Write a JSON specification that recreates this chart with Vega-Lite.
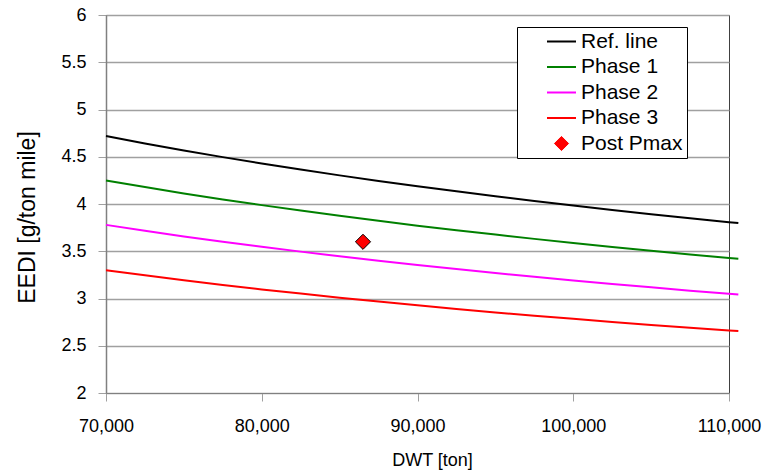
{
  "$schema": "https://vega.github.io/schema/vega-lite/v6.json",
  "width": 623,
  "height": 378,
  "autosize": {"type": "none"},
  "padding": {"left": 106, "top": 15, "right": 34, "bottom": 81},
  "background": "white",
  "config": {
    "font": "Liberation Sans",
    "view": {"stroke": "#404040", "strokeWidth": 1},
    "axis": {"labelFont": "Liberation Sans", "titleFont": "Liberation Sans", "labelColor": "#000000", "titleColor": "#000000", "titleFontWeight": "normal"},
    "legend": {"labelFont": "Liberation Sans"}
  },
  "datasets": {
    "lines": [
      {"s": "Ref. line", "x": 70000, "y": 4.719}, {"s": "Ref. line", "x": 72500, "y": 4.641}, {"s": "Ref. line", "x": 75000, "y": 4.566}, {"s": "Ref. line", "x": 77500, "y": 4.496}, {"s": "Ref. line", "x": 80000, "y": 4.429}, {"s": "Ref. line", "x": 82500, "y": 4.365}, {"s": "Ref. line", "x": 85000, "y": 4.303}, {"s": "Ref. line", "x": 87500, "y": 4.244}, {"s": "Ref. line", "x": 90000, "y": 4.188}, {"s": "Ref. line", "x": 92500, "y": 4.134}, {"s": "Ref. line", "x": 95000, "y": 4.082}, {"s": "Ref. line", "x": 97500, "y": 4.032}, {"s": "Ref. line", "x": 100000, "y": 3.984}, {"s": "Ref. line", "x": 102500, "y": 3.937}, {"s": "Ref. line", "x": 105000, "y": 3.892}, {"s": "Ref. line", "x": 107500, "y": 3.849}, {"s": "Ref. line", "x": 110000, "y": 3.807}, {"s": "Ref. line", "x": 110600, "y": 3.798},
      {"s": "Phase 1", "x": 70000, "y": 4.249}, {"s": "Phase 1", "x": 72500, "y": 4.179}, {"s": "Phase 1", "x": 75000, "y": 4.111}, {"s": "Phase 1", "x": 77500, "y": 4.048}, {"s": "Phase 1", "x": 80000, "y": 3.988}, {"s": "Phase 1", "x": 82500, "y": 3.931}, {"s": "Phase 1", "x": 85000, "y": 3.875}, {"s": "Phase 1", "x": 87500, "y": 3.822}, {"s": "Phase 1", "x": 90000, "y": 3.771}, {"s": "Phase 1", "x": 92500, "y": 3.723}, {"s": "Phase 1", "x": 95000, "y": 3.676}, {"s": "Phase 1", "x": 97500, "y": 3.631}, {"s": "Phase 1", "x": 100000, "y": 3.588}, {"s": "Phase 1", "x": 102500, "y": 3.545}, {"s": "Phase 1", "x": 105000, "y": 3.505}, {"s": "Phase 1", "x": 107500, "y": 3.466}, {"s": "Phase 1", "x": 110000, "y": 3.428}, {"s": "Phase 1", "x": 110600, "y": 3.42},
      {"s": "Phase 2", "x": 70000, "y": 3.779}, {"s": "Phase 2", "x": 72500, "y": 3.717}, {"s": "Phase 2", "x": 75000, "y": 3.657}, {"s": "Phase 2", "x": 77500, "y": 3.601}, {"s": "Phase 2", "x": 80000, "y": 3.547}, {"s": "Phase 2", "x": 82500, "y": 3.496}, {"s": "Phase 2", "x": 85000, "y": 3.446}, {"s": "Phase 2", "x": 87500, "y": 3.399}, {"s": "Phase 2", "x": 90000, "y": 3.354}, {"s": "Phase 2", "x": 92500, "y": 3.311}, {"s": "Phase 2", "x": 95000, "y": 3.27}, {"s": "Phase 2", "x": 97500, "y": 3.23}, {"s": "Phase 2", "x": 100000, "y": 3.191}, {"s": "Phase 2", "x": 102500, "y": 3.154}, {"s": "Phase 2", "x": 105000, "y": 3.118}, {"s": "Phase 2", "x": 107500, "y": 3.083}, {"s": "Phase 2", "x": 110000, "y": 3.05}, {"s": "Phase 2", "x": 110600, "y": 3.042},
      {"s": "Phase 3", "x": 70000, "y": 3.30}, {"s": "Phase 3", "x": 72500, "y": 3.245}, {"s": "Phase 3", "x": 75000, "y": 3.192}, {"s": "Phase 3", "x": 77500, "y": 3.143}, {"s": "Phase 3", "x": 80000, "y": 3.096}, {"s": "Phase 3", "x": 82500, "y": 3.052}, {"s": "Phase 3", "x": 85000, "y": 3.008}, {"s": "Phase 3", "x": 87500, "y": 2.967}, {"s": "Phase 3", "x": 90000, "y": 2.928}, {"s": "Phase 3", "x": 92500, "y": 2.89}, {"s": "Phase 3", "x": 95000, "y": 2.853}, {"s": "Phase 3", "x": 97500, "y": 2.818}, {"s": "Phase 3", "x": 100000, "y": 2.785}, {"s": "Phase 3", "x": 102500, "y": 2.752}, {"s": "Phase 3", "x": 105000, "y": 2.72}, {"s": "Phase 3", "x": 107500, "y": 2.69}, {"s": "Phase 3", "x": 110000, "y": 2.661}, {"s": "Phase 3", "x": 110600, "y": 2.655}
    ],
    "points": [
      {"s": "Post Pmax", "x": 86500, "y": 3.6}
    ]
  },
  "encoding": {
    "x": {
      "field": "x", "type": "quantitative",
      "scale": {"domain": [70000, 110000], "nice": false, "zero": false},
      "axis": {
        "title": "DWT [ton]", "values": [70000, 80000, 90000, 100000, 110000], "format": ",d",
        "grid": false, "domainColor": "#808080", "tickColor": "#a0a0a0", "tickSize": 8,
        "labelFontSize": 18, "labelPadding": 16, "labelFlush": false,
        "titleFontSize": 18, "titleX": 326, "titleY": 67, "titleBaseline": "middle"
      }
    },
    "y": {
      "field": "y", "type": "quantitative",
      "scale": {"domain": [2, 6], "nice": false, "zero": false},
      "axis": {
        "title": "EEDI [g/ton mile]", "values": [2, 2.5, 3, 3.5, 4, 4.5, 5, 5.5, 6], "format": "~g",
        "grid": true, "gridColor": "#a0a0a0", "gridWidth": 1.5,
        "domainColor": "#808080", "domainWidth": 1.5, "tickColor": "#a0a0a0", "tickSize": 8,
        "labelFontSize": 18, "labelPadding": 12,
        "titleFontSize": 23, "titleX": -79, "titleY": 202, "titleBaseline": "middle", "titleAlign": "center", "titleAngle": 270
      }
    },
    "color": {
      "field": "s", "type": "nominal",
      "scale": {"domain": ["Ref. line", "Phase 1", "Phase 2", "Phase 3", "Post Pmax"], "range": ["#000000", "#008000", "#ff00ff", "#ff0000", "#ff0000"]},
      "legend": {
        "title": null, "orient": "none", "legendX": 411, "legendY": 12,
        "strokeColor": "#000000", "fillColor": "#ffffff", "padding": 4,
        "labelFontSize": 21, "labelColor": "#000000", "labelOffset": 9,
        "symbolType": "stroke", "symbolSize": 576, "symbolStrokeWidth": 2, "symbolOffset": 30,
        "rowPadding": 3.5,
        "encode": {
          "symbols": {
            "update": {
              "shape": {"signal": "datum.label === 'Post Pmax' ? 'diamond' : 'stroke'"},
              "size": {"signal": "datum.label === 'Post Pmax' ? 200 : 841"},
              "fill": {"signal": "datum.label === 'Post Pmax' ? '#ff0000' : 'transparent'"},
              "stroke": {"signal": "datum.label === 'Post Pmax' ? '#000000' : scale('color', datum.value)"},
              "strokeWidth": {"signal": "datum.label === 'Post Pmax' ? 1 : 2"}
            }
          }
        }
      }
    }
  },
  "layer": [
    {
      "data": {"name": "lines"},
      "mark": {"type": "line", "strokeWidth": 2, "clip": false},
      "encoding": {"detail": {"field": "s"}}
    },
    {
      "data": {"name": "points"},
      "mark": {"type": "point", "shape": "diamond", "filled": true, "size": 230, "stroke": "#000000", "strokeWidth": 1, "opacity": 1},
      "encoding": {}
    }
  ]
}
